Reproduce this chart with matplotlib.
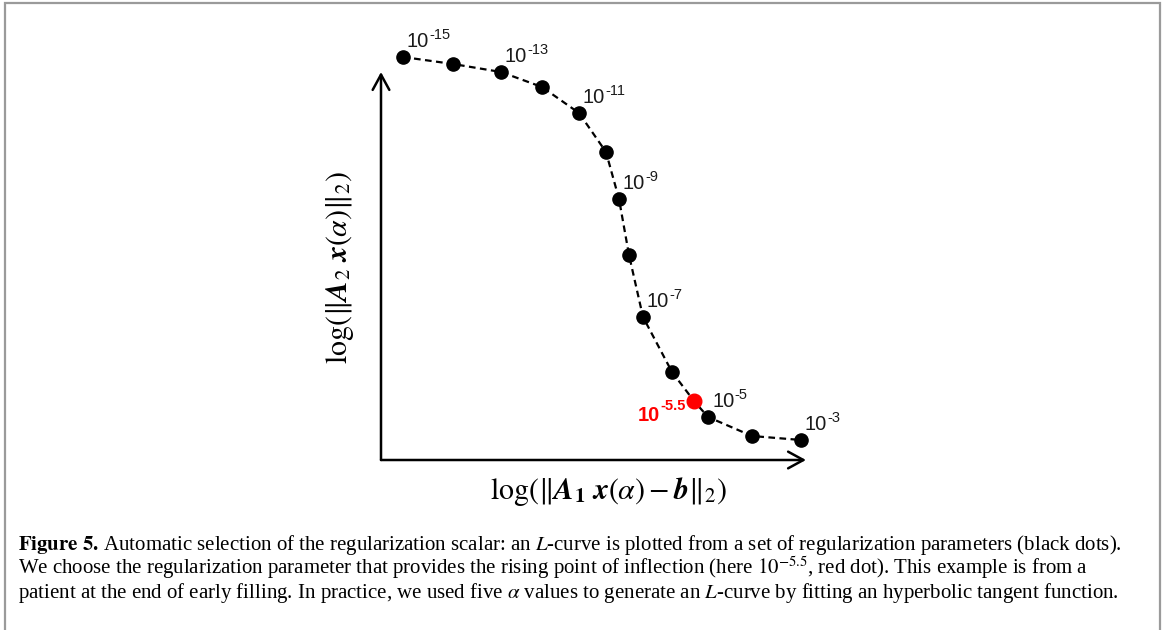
import numpy as np
import matplotlib.pyplot as plt
from matplotlib.patches import Rectangle

# L-curve points (log residual norm, log solution norm), arbitrary units
res_norm = np.array([0.22, 0.72, 1.20, 1.61, 1.98, 2.25, 2.38, 2.48, 2.62, 2.91, 3.13, 3.27, 3.71, 4.20])
sol_norm = np.array([4.03, 3.96, 3.88, 3.73, 3.47, 3.08, 2.61, 2.05, 1.43, 0.88, 0.59, 0.43, 0.24, 0.20])
chosen = 10  # index of the alpha = 10^-5.5 point

# labelled points: index -> exponent
label_idx = [0, 2, 4, 6, 8, 11, 13]
label_exp = ['-15', '-13', '-11', '-9', '-7', '-5', '-3']

caption = [
    r'$\mathbf{Figure\ 5.\,}$Automatic selection of the regularization scalar: an $L$-curve is plotted from a set of regularization parameters (black dots).',
    r'We choose the regularization parameter that provides the rising point of inflection (here $10^{-5.5}$, red dot). This example is from a',
    r'patient at the end of early filling. In practice, we used five $\alpha$ values to generate an $L$-curve by fitting an hyperbolic tangent function.',
]

W, H = 1165, 630
fig = plt.figure(figsize=(W / 100, H / 100), dpi=100)

# gray frame round the figure
fig.patches.append(Rectangle((5 / W, -0.02), (1160 - 5) / W, 1.02 - 3 / H,
                             transform=fig.transFigure, fill=False,
                             edgecolor='#9a9a9a', lw=1.6))

ax = fig.add_axes([381 / W, 170 / H, (806 - 381) / W, 430 / H])
ax.set_xlim(0, 4.25)
ax.set_ylim(0, 4.3)
ax.axis('off')

# axes drawn as open arrows
arrow = dict(arrowstyle='->,head_length=0.55,head_width=0.3', lw=1.8, color='black',
             mutation_scale=20, shrinkA=0, shrinkB=0)
ax.annotate('', xy=(4.25, 0), xytext=(0, 0), arrowprops=arrow, annotation_clip=False)
ax.annotate('', xy=(0, 3.88), xytext=(0, 0), arrowprops=arrow, annotation_clip=False)

ax.plot(res_norm, sol_norm, color='black', ls='--', dashes=(3, 2), lw=1.6, clip_on=False, zorder=2)
mask = np.arange(len(res_norm)) != chosen
ax.plot(res_norm[mask], sol_norm[mask], 'o', color='black', ms=9.5, clip_on=False, zorder=3)
ax.plot(res_norm[chosen], sol_norm[chosen], 'o', color='#ff0000', ms=10.5, clip_on=False, zorder=4)

sans = 'Liberation Sans'


def power_label(x, y, exp, dx, dy, color='#1a1a1a', weight='normal', ha='left'):
    kw = dict(family=sans, color=color, fontweight=weight, annotation_clip=False)
    if ha == 'left':
        base = ax.annotate('10', xy=(x, y), xytext=(dx, dy), textcoords='offset pixels',
                           fontsize=14.5, ha='left', va='baseline', **kw)
        ax.annotate(exp, xy=(1, 0), xycoords=base, xytext=(0.3, 8.3), textcoords='offset points',
                    fontsize=10.5, ha='left', va='baseline', **kw)
    else:
        sup = ax.annotate(exp, xy=(x, y), xytext=(dx, dy + 11), textcoords='offset pixels',
                          fontsize=10.5, ha='right', va='baseline', **kw)
        ax.annotate('10', xy=(0, 0), xycoords=sup, xytext=(-0.3, -8.3), textcoords='offset points',
                    fontsize=14.5, ha='right', va='bottom', **kw)


for i, e in zip(label_idx, label_exp):
    power_label(res_norm[i], sol_norm[i], e, 4, 10)
power_label(res_norm[chosen], sol_norm[chosen], '-5.5', -8, -20, color='#ff0000', weight='bold', ha='right')

# axis titles
fig.text(608 / W, 1 - 492 / H, r'$\log(\|\mathbfit{A}_{\mathbf{1}}\ \mathbfit{x}(\alpha) - \mathbfit{b}\|_2)$',
         ha='center', va='center', fontsize=21.5, math_fontfamily='stix')
fig.text(340 / W, 1 - 268 / H, r'$\log(\|\mathbfit{A}_{2}\ \mathbfit{x}(\alpha)\|_2)$',
         ha='center', va='center', rotation=90, fontsize=21.5, math_fontfamily='stix')

# caption
for k, line in enumerate(caption):
    fig.text(18 / W, 1 - (550 + 24 * k) / H, line, ha='left', va='baseline',
             family='Liberation Serif', fontsize=15.0, math_fontfamily='stix')

fig.savefig('out.png', dpi=100)
